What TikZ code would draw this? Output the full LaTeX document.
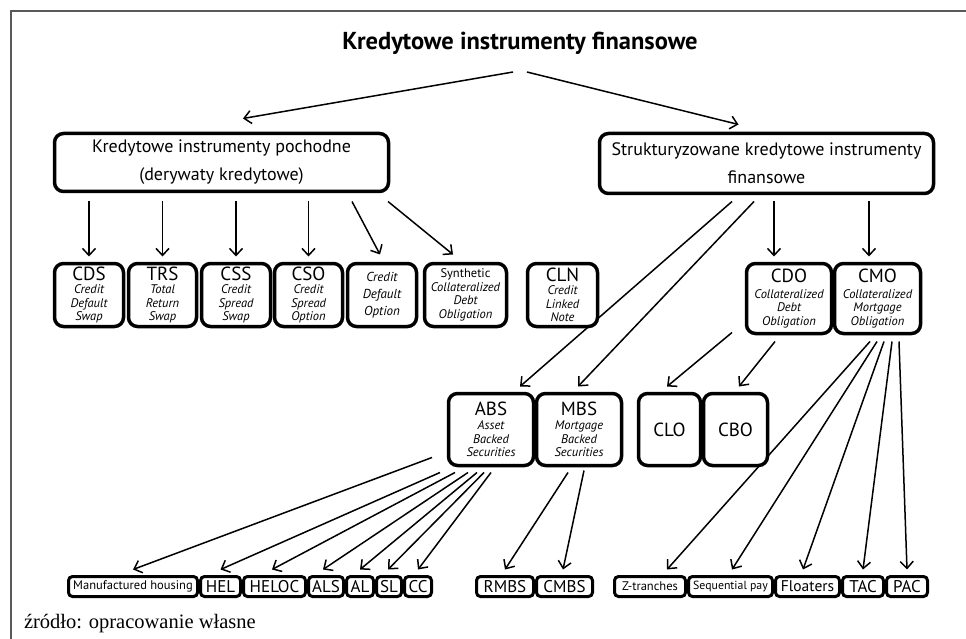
\documentclass[tikz,border=0pt]{standalone}
\usepackage{fontspec}
\setmainfont{PT Sans}
\newfontfamily\capfont{Liberation Serif}
\usetikzlibrary{arrows.meta,calc,backgrounds}
\newcommand{\mylab}{\upshape\fontsize{19}{19}\selectfont}
\newcommand{\myit}{\itshape\fontsize{12.5}{13.5}\selectfont}
\begin{document}
\begin{tikzpicture}[x=1pt,y=-1pt,
  every node/.style={inner sep=0pt, outer sep=0pt},
  box/.style={draw=black, line width=3.5pt, fill=white, rounded corners=9pt, align=center},
  pbox/.style={box, font=\fontsize{18}{28}\selectfont, minimum width=334pt},
  rbox/.style={box, minimum height=63pt, font=\myit},
  sbox/.style={draw=black, line width=3pt, fill=white, rounded corners=4pt, minimum height=20pt, align=center, font=\fontsize{17}{17}\selectfont},
  tbox/.style={sbox, font=\fontsize{12.5}{13}\selectfont},
  arr/.style={line width=1.5pt, -{Straight Barb[length=7pt,width=13pt,line width=1.5pt]}},
  frame/.style={draw=black!65, line width=2pt}
]
\useasboundingbox (0,0) rectangle (966,639);
\coordinate (fr1) at (11,639);
\coordinate (fr2) at (11,11);
\coordinate (fr3) at (966,11);
\draw[frame] (fr1) -- (fr2) -- (fr3);

\node[font=\bfseries\fontsize{24.5}{26}\selectfont] (title) at (520,43) {Kredytowe instrumenty finansowe};

\node[pbox, minimum height=58pt] (pa) at (221.5,162.5) {Kredytowe instrumenty pochodne\\(derywaty kredytowe)};
\node[pbox, minimum height=60pt] (pb) at (766.5,163.5) {Strukturyzowane kredytowe instrumenty\\finansowe};

% row 1
\node[rbox, minimum width=69pt] (cds) at (89,295) {{\mylab CDS}\\Credit\\Default\\Swap};
\node[rbox, minimum width=68pt] (trs) at (162.5,295) {{\mylab TRS}\\Total\\Return\\Swap};
\node[rbox, minimum width=69pt] (css) at (236,295) {{\mylab CSS}\\Credit\\Spread\\Swap};
\node[rbox, minimum width=68pt] (cso) at (308.5,295) {{\mylab CSO}\\Credit\\Spread\\Option};
\node[rbox, minimum width=69pt, font=\itshape\fontsize{13}{17}\selectfont] (cdop) at (382,295) {Credit\\Default\\Option};
\node[rbox, minimum width=82pt] (syn) at (465.5,295) {{\upshape Synthetic}\\Collateralized\\Debt\\Obligation};
\node[rbox, minimum width=70pt] (cln) at (562.5,295) {{\mylab CLN}\\Credit\\Linked\\Note};
\node[rbox, minimum width=85pt, minimum height=70pt] (cdo) at (789,298.5) {{\mylab CDO}\\[2pt]Collateralized\\Debt\\Obligation};
\node[rbox, minimum width=86pt, minimum height=70pt] (cmo) at (877.5,298.5) {{\mylab CMO}\\[2pt]Collateralized\\Mortgage\\Obligation};

% row 2
\node[rbox, minimum width=85pt, minimum height=72pt] (abs) at (491,429.5) {{\mylab ABS}\\[1pt]Asset\\Backed\\Securities};
\node[rbox, minimum width=85pt, minimum height=72pt] (mbs) at (579,429.5) {{\mylab MBS}\\[1pt]Mortgage\\Backed\\Securities};
\node[rbox, minimum width=62pt, minimum height=72pt] (clo) at (669.5,429.5) {\mylab CLO};
\node[rbox, minimum width=64pt, minimum height=72pt] (cbo) at (735.5,429.5) {\mylab CBO};

% row 3
\node[tbox, minimum width=129pt] (mh) at (133,586.5) {Manufactured housing};
\node[sbox, minimum width=40pt] (hel) at (220.5,586.5) {HEL};
\node[sbox, minimum width=62pt] (heloc) at (274.5,586.5) {HELOC};
\node[sbox, minimum width=35pt] (als) at (326,586.5) {ALS};
\node[sbox, minimum width=27pt] (al) at (360,586.5) {AL};
\node[sbox, minimum width=25pt] (sl) at (389,586.5) {SL};
\node[sbox, minimum width=27pt] (cc) at (418,586.5) {CC};
\node[sbox, minimum width=57pt] (rmbs) at (505,586.5) {RMBS};
\node[sbox, minimum width=56pt] (cmbs) at (564.5,586.5) {CMBS};
\node[tbox, minimum width=71pt] (zt) at (650,586.5) {Z-tranches};
\node[tbox, minimum width=84pt, font=\fontsize{11.8}{12}\selectfont] (seq) at (730.5,586.5) {Sequential pay};
\node[sbox, minimum width=64pt, font=\fontsize{15.5}{16}\selectfont] (flo) at (807.5,586.5) {Floaters};
\node[sbox, minimum width=41pt] (tac) at (863,586.5) {TAC};
\node[sbox, minimum width=41pt] (pac) at (907,586.5) {PAC};

\node[anchor=west, font=\capfont\fontsize{20.5}{21}\selectfont] (src) at (24,624) {źródło: opracowanie własne};

\begin{scope}[on background layer]
\draw[arr] ($(title.center)+(-7,29)$) -- ($(pa.north)+(21.5,-15)$);
\draw[arr] ($(title.center)+(7,29)$) -- ($(pb.north)+(-28,-9)$);

\draw[arr] ($(pa.south)+(-132.5,10)$) -- ($(cds.north)+(0,-7)$);
\draw[arr] ($(pa.south)+(-59,10)$) -- ($(trs.north)+(0,-7)$);
\draw[arr] ($(pa.south)+(14.5,10)$) -- ($(css.north)+(0,-7)$);
\draw[arr] ($(pa.south)+(87,10)$) -- ($(cso.north)+(0,-7)$);
\draw[arr] ($(pa.south)+(130.5,10)$) -- ($(cdop.north)+(-2,-9)$);
\draw[arr] ($(pa.south)+(166.5,10)$) -- ($(syn.north)+(-12.5,-9)$);

\draw[arr] ($(pb.south)+(-34.5,8)$) -- ($(abs.north)+(29,-7)$);
\draw[arr] ($(pb.south)+(-12.5,8)$) -- ($(mbs.north)+(-1,-7)$);
\draw[arr] ($(pb.south)+(7.5,8)$) -- ($(cdo.north)+(-15,-7)$);
\draw[arr] ($(pb.south)+(102.5,8)$) -- ($(cmo.north)+(-8.5,-7)$);

\draw[arr] ($(cdo.south)+(-57,-1)$) -- ($(clo.north)+(-2.5,-7)$);
\draw[arr] ($(cdo.south)+(-14,8)$) -- ($(cbo.north)+(3.5,-7)$);

\draw[arr] ($(abs.south)+(-59,-8)$) -- ($(mh.north)+(0,-7)$);
\draw[arr] ($(abs.south)+(-51,7)$) -- ($(hel.north)+(0,-7)$);
\draw[arr] ($(abs.south)+(-36,7)$) -- ($(heloc.north)+(-2.5,-7)$);
\draw[arr] ($(abs.south)+(-23,7)$) -- ($(als.north)+(-3,-7)$);
\draw[arr] ($(abs.south)+(-14,7)$) -- ($(al.north)+(0,-7)$);
\draw[arr] ($(abs.south)+(-7,7)$) -- ($(sl.north)+(-1,-7)$);
\draw[arr] ($(abs.south)+(0,7)$) -- ($(cc.north)+(0,-7)$);

\draw[arr] ($(mbs.south)+(-11,7)$) -- ($(rmbs.north)+(0,-7)$);
\draw[arr] ($(mbs.south)+(5,5)$) -- ($(cmbs.north)+(-1.5,-7)$);

\draw[arr] ($(cmo.south)+(-7.5,8)$) -- ($(zt.north)+(17,-7)$);
\draw[arr] ($(cmo.south)+(-0.5,8)$) -- ($(seq.north)+(1.5,-7)$);
\draw[arr] ($(cmo.south)+(6.5,8)$) -- ($(flo.north)+(-4.5,-7)$);
\draw[arr] ($(cmo.south)+(14.5,8)$) -- ($(tac.north)+(0,-7)$);
\draw[arr] ($(cmo.south)+(21.5,8)$) -- ($(pac.north)+(0,-7)$);
\end{scope}
\end{tikzpicture}
\end{document}
